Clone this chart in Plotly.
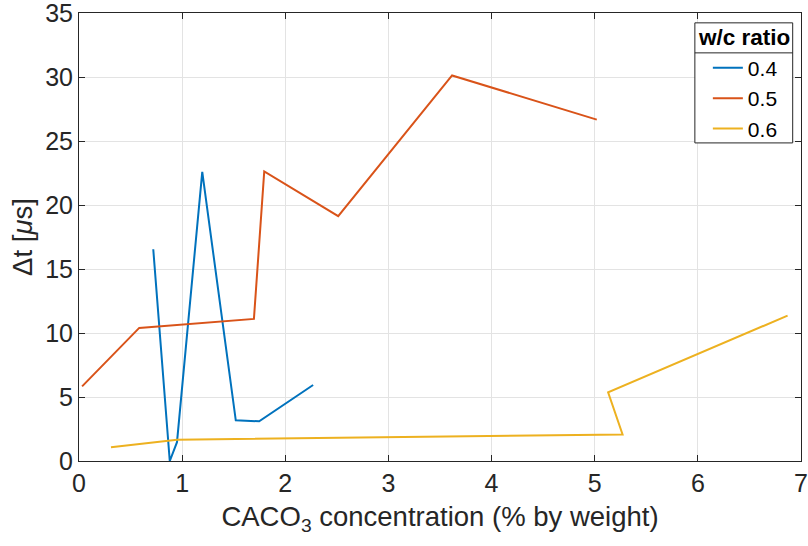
import plotly.graph_objects as go

# Data
x_04 = [0.72, 0.88, 0.95, 1.195, 1.52, 1.747, 2.27]
y_04 = [16.54, 0.0, 1.47, 22.59, 3.18, 3.10, 5.94]

x_05 = [0.03, 0.584, 1.696, 1.796, 2.513, 3.617, 5.02]
y_05 = [5.83, 10.40, 11.10, 22.62, 19.13, 30.12, 26.67]

x_06 = [0.31, 0.95, 5.27, 5.13, 6.87]
y_06 = [1.08, 1.66, 2.07, 5.36, 11.36]

series_names = ["0.4", "0.5", "0.6"]
colors = ["#0072BD", "#D95319", "#EDB120"]
legend_title = "w/c ratio"

x_ticks = [0, 1, 2, 3, 4, 5, 6, 7]
y_ticks = [0, 5, 10, 15, 20, 25, 30, 35]

FONT = "Liberation Sans, Arial, sans-serif"
AX = "#262626"

fig = go.Figure()
for xs, ys, name, c in zip([x_04, x_05, x_06], [y_04, y_05, y_06], series_names, colors):
    fig.add_trace(go.Scatter(x=xs, y=ys, mode="lines", name=name,
                             line=dict(color=c, width=2)))

axis_common = dict(
    showline=True, linecolor=AX, linewidth=1, mirror="allticks",
    ticks="inside", ticklen=6, tickcolor=AX, tickwidth=1,
    showgrid=True, gridcolor="#e3e3e3", gridwidth=1,
    zeroline=False, tickfont=dict(family=FONT, size=25, color=AX),
    ticklabeloverflow="allow", automargin=False,
)

fig.update_xaxes(range=[0, 7], tickvals=x_ticks,
                 title=dict(text="CACO<sub>3</sub> concentration (% by weight)",
                            font=dict(family=FONT, size=27.5, color=AX), standoff=10),
                 **axis_common)
fig.update_yaxes(range=[0, 35], tickvals=y_ticks,
                 title=dict(text="Δt [<i>μ</i>s]",
                            font=dict(family=FONT, size=27.5, color=AX), standoff=4),
                 **axis_common)

# legend frame (box + separator under the title), drawn as shapes
box_x0, box_x1 = 0.853, 0.9885
box_y0, box_y1 = 0.710, 0.978
sep_y = 0.911

fig.update_layout(
    width=808, height=546,
    margin=dict(l=79, r=7, t=13, b=85),
    paper_bgcolor="white", plot_bgcolor="white",
    font=dict(family=FONT, color=AX),
    showlegend=True,
    legend=dict(
        x=0.871, y=0.9225, xanchor="left", yanchor="top",
        bgcolor="rgba(0,0,0,0)", borderwidth=0,
        font=dict(family=FONT, size=21, color="black"),
        itemwidth=30, tracegroupgap=0,
    ),
    shapes=[
        dict(type="rect", xref="paper", yref="paper",
             x0=box_x0, x1=box_x1, y0=box_y0, y1=box_y1,
             fillcolor="white", line=dict(color=AX, width=1), layer="above"),
        dict(type="line", xref="paper", yref="paper",
             x0=box_x0, x1=box_x1, y0=sep_y, y1=sep_y,
             line=dict(color=AX, width=1), layer="above"),
    ],
    annotations=[dict(text="<b>" + legend_title + "</b>", xref="paper", yref="paper",
                      x=(box_x0 + box_x1) / 2, y=(sep_y + box_y1) / 2,
                      xanchor="center", yanchor="middle", showarrow=False,
                      font=dict(family=FONT, size=22.5, color="black"))],
)

fig.write_html("out.html")
